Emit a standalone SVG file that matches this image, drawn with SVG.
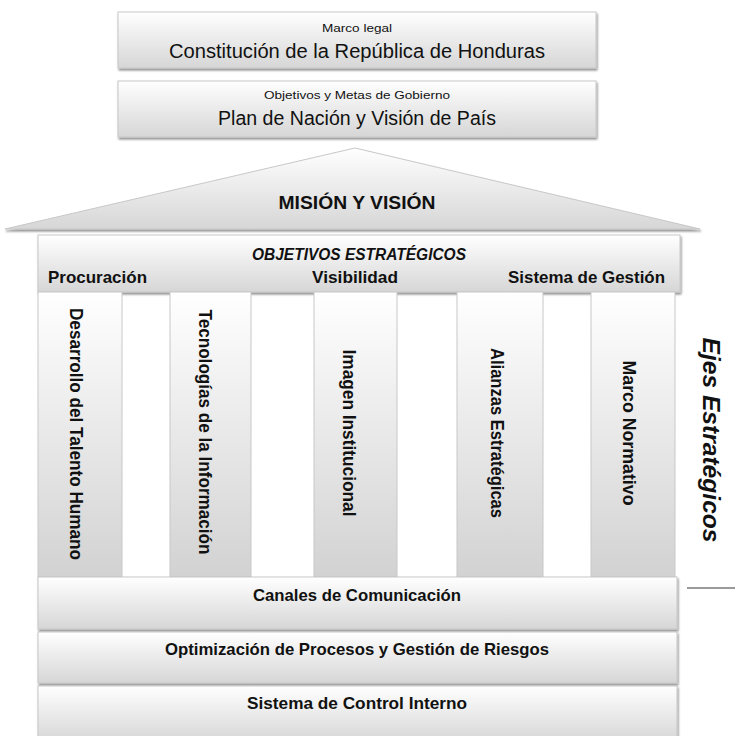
<svg xmlns="http://www.w3.org/2000/svg" width="735" height="736" viewBox="0 0 735 736">
<defs>
<linearGradient id="gv" x1="0" y1="0" x2="0" y2="1">
<stop offset="0" stop-color="#ffffff"/>
<stop offset="1" stop-color="#d6d6d6"/>
</linearGradient>
<linearGradient id="gp" x1="0" y1="0" x2="0" y2="1">
<stop offset="0" stop-color="#ffffff"/>
<stop offset="1" stop-color="#d2d2d2"/>
</linearGradient>
<filter id="sh" x="-5%" y="-5%" width="110%" height="120%">
<feGaussianBlur in="SourceAlpha" stdDeviation="1.2"/>
<feOffset dx="1" dy="2" result="b"/>
<feComponentTransfer><feFuncA type="linear" slope="0.45"/></feComponentTransfer>
<feMerge><feMergeNode/><feMergeNode in="SourceGraphic"/></feMerge>
</filter>
</defs>
<style>
.box{fill:url(#gv);stroke:#c8c8c8;stroke-width:1;filter:url(#sh)}
.pil{fill:url(#gp);stroke:#c8c8c8;stroke-width:1}
text{font-family:"Liberation Sans",Arial,sans-serif;fill:#111}
.sm{font-size:11.5px}
.lg{font-size:20px}
.t15{font-size:16.5px;font-weight:bold}
.v{font-size:18px;font-weight:bold;dominant-baseline:central}
</style>
<rect width="735" height="736" fill="#ffffff"/>

<g id="marco-legal">
<rect class="box" x="118" y="12" width="478" height="56"/>
<text class="sm" x="357" y="32" text-anchor="middle" textLength="70" lengthAdjust="spacingAndGlyphs">Marco legal</text>
<text class="lg" x="357" y="58" text-anchor="middle" textLength="376" lengthAdjust="spacingAndGlyphs">Constitución de la República de Honduras</text>
</g>

<g id="plan-nacion">
<rect class="box" x="118" y="81" width="478" height="56"/>
<text class="sm" x="357" y="99" text-anchor="middle" textLength="186" lengthAdjust="spacingAndGlyphs">Objetivos y Metas de Gobierno</text>
<text class="lg" x="357" y="125" text-anchor="middle" textLength="278" lengthAdjust="spacingAndGlyphs">Plan de Nación y Visión de País</text>
</g>

<g id="mision-vision">
<polygon points="5,229 355,148 700,229" fill="url(#gv)" stroke="#c8c8c8" stroke-width="1" filter="url(#sh)"/>
<text x="357" y="209" font-size="18" font-weight="bold" text-anchor="middle" textLength="157" lengthAdjust="spacingAndGlyphs">MISIÓN Y VISIÓN</text>
</g>

<g id="objetivos">
<rect class="box" x="38" y="235" width="642" height="57"/>
<text x="359" y="260" font-size="16" font-weight="bold" font-style="italic" text-anchor="middle" textLength="214" lengthAdjust="spacingAndGlyphs">OBJETIVOS ESTRATÉGICOS</text>
<text class="t15" x="48" y="283" textLength="99" lengthAdjust="spacingAndGlyphs">Procuración</text>
<text class="t15" x="312" y="283" textLength="86" lengthAdjust="spacingAndGlyphs">Visibilidad</text>
<text class="t15" x="508" y="283" textLength="157" lengthAdjust="spacingAndGlyphs">Sistema de Gestión</text>
</g>

<g id="pilar-talento">
<rect class="pil" x="38" y="292" width="84" height="285"/>
<text class="v" transform="translate(76,434) rotate(90)" text-anchor="middle" textLength="252" lengthAdjust="spacingAndGlyphs">Desarrollo del Talento Humano</text>
</g>
<g id="pilar-tecnologias">
<rect class="pil" x="170" y="292" width="81" height="285"/>
<text class="v" transform="translate(205,432) rotate(90)" text-anchor="middle" textLength="245" lengthAdjust="spacingAndGlyphs">Tecnologías de la Información</text>
</g>
<g id="pilar-imagen">
<rect class="pil" x="314" y="292" width="83" height="285"/>
<text class="v" transform="translate(349,433) rotate(90)" text-anchor="middle" textLength="167" lengthAdjust="spacingAndGlyphs">Imagen Institucional</text>
</g>
<g id="pilar-alianzas">
<rect class="pil" x="457" y="292" width="86" height="285"/>
<text class="v" transform="translate(497,433) rotate(90)" text-anchor="middle" textLength="170" lengthAdjust="spacingAndGlyphs" font-weight="normal">Alianzas Estratégicas</text>
</g>
<g id="pilar-marco">
<rect class="pil" x="591" y="292" width="84" height="285"/>
<text class="v" transform="translate(629,433) rotate(90)" text-anchor="middle" textLength="145" lengthAdjust="spacingAndGlyphs">Marco Normativo</text>
</g>

<g id="ejes">
<text transform="translate(711,440) rotate(90)" font-size="23" font-weight="bold" font-style="italic" text-anchor="middle" dominant-baseline="central" textLength="205" lengthAdjust="spacingAndGlyphs">Ejes Estratégicos</text>
<line x1="687" y1="588" x2="735" y2="588" stroke="#9a9a9a" stroke-width="2"/>
</g>

<g id="canales">
<rect class="box" x="38" y="577" width="639" height="52"/>
<text class="t15" x="357" y="601" text-anchor="middle" textLength="208" lengthAdjust="spacingAndGlyphs">Canales de Comunicación</text>
</g>
<g id="optimizacion">
<rect class="box" x="38" y="632" width="639" height="51"/>
<text class="t15" x="357" y="655" text-anchor="middle" textLength="384" lengthAdjust="spacingAndGlyphs">Optimización de Procesos y Gestión de Riesgos</text>
</g>
<g id="control-interno">
<rect class="box" x="38" y="686" width="639" height="56"/>
<text class="t15" x="357" y="709" text-anchor="middle" textLength="220" lengthAdjust="spacingAndGlyphs">Sistema de Control Interno</text>
</g>

<g id="connectors"/>
</svg>
